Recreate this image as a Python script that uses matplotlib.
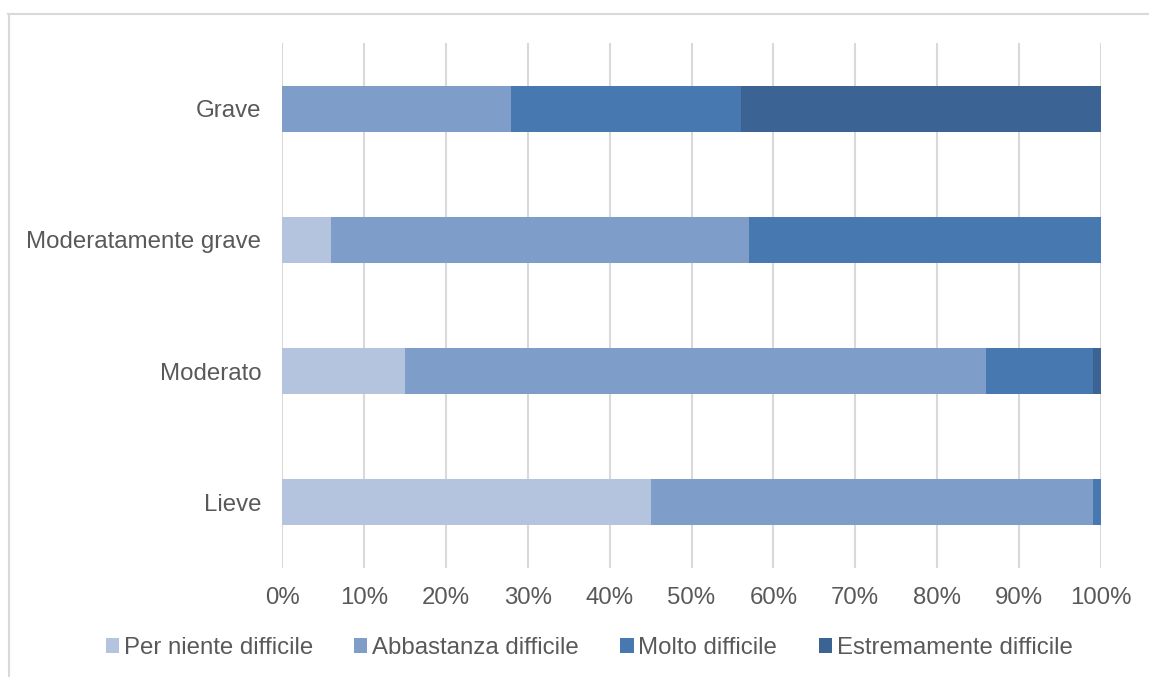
import matplotlib
matplotlib.use("Agg")
import matplotlib.pyplot as plt
from matplotlib.lines import Line2D
from matplotlib.ticker import PercentFormatter

# Severity groups (bottom to top) and share of answers per difficulty level (%)
categories = ["Lieve", "Moderato", "Moderatamente grave", "Grave"]
series_names = ["Per niente difficile", "Abbastanza difficile",
                "Molto difficile", "Estremamente difficile"]
per_niente = [45, 15, 6, 0]
abbastanza = [54, 71, 51, 28]
molto = [1, 13, 43, 28]
estremamente = [0, 1, 0, 44]
series_values = [per_niente, abbastanza, molto, estremamente]
x_ticks = [0, 10, 20, 30, 40, 50, 60, 70, 80, 90, 100]

colors = ["#B4C3DE", "#7F9DC9", "#4878B0", "#3B6394"]
text_color = "#595959"
grid_color = "#D9D9D9"

plt.rcParams["font.family"] = ["Liberation Sans", "DejaVu Sans"]

W, H = 1149, 677
fig = plt.figure(figsize=(W / 100, H / 100), dpi=100)
ax = fig.add_axes([282 / W, 1 - 568 / H, (1101 - 282) / W, (568 - 43) / H])

ypos = list(range(len(categories)))
left = [0] * len(categories)
handles = []
for name, vals, col in zip(series_names, series_values, colors):
    b = ax.barh(ypos, vals, left=left, height=0.35, color=col,
                label=name, zorder=3, linewidth=0)
    handles.append(b)
    left = [l + v for l, v in zip(left, vals)]

ax.set_xlim(0, 100)
ax.set_ylim(-0.5, 3.5)
ax.set_xticks(x_ticks)
ax.xaxis.set_major_formatter(PercentFormatter(decimals=0))
ax.set_yticks(ypos)
ax.set_yticklabels(categories)
ax.tick_params(axis="both", length=0, labelsize=17.3, colors=text_color)
ax.tick_params(axis="x", pad=13.5)
ax.tick_params(axis="y", pad=15)
for s in ax.spines.values():
    s.set_visible(False)
ax.grid(axis="x", color=grid_color, linewidth=1.5, zorder=0)

leg = fig.legend(handles=handles, labels=series_names, loc="center",
                 bbox_to_anchor=(589 / W, 1 - 648 / H), ncol=4, frameon=False,
                 fontsize=17.3, handlelength=0.55, handleheight=0.55,
                 handletextpad=0.2, columnspacing=1.72, labelcolor=text_color)

# Chart frame (top and left edges)
fig.add_artist(Line2D([8 / W, 1.0], [1 - 13.5 / H, 1 - 13.5 / H],
                      color=grid_color, linewidth=1.5))
fig.add_artist(Line2D([8.5 / W, 8.5 / W], [0, 1 - 13.5 / H],
                      color=grid_color, linewidth=1.5))

fig.savefig("out.png", dpi=100)
